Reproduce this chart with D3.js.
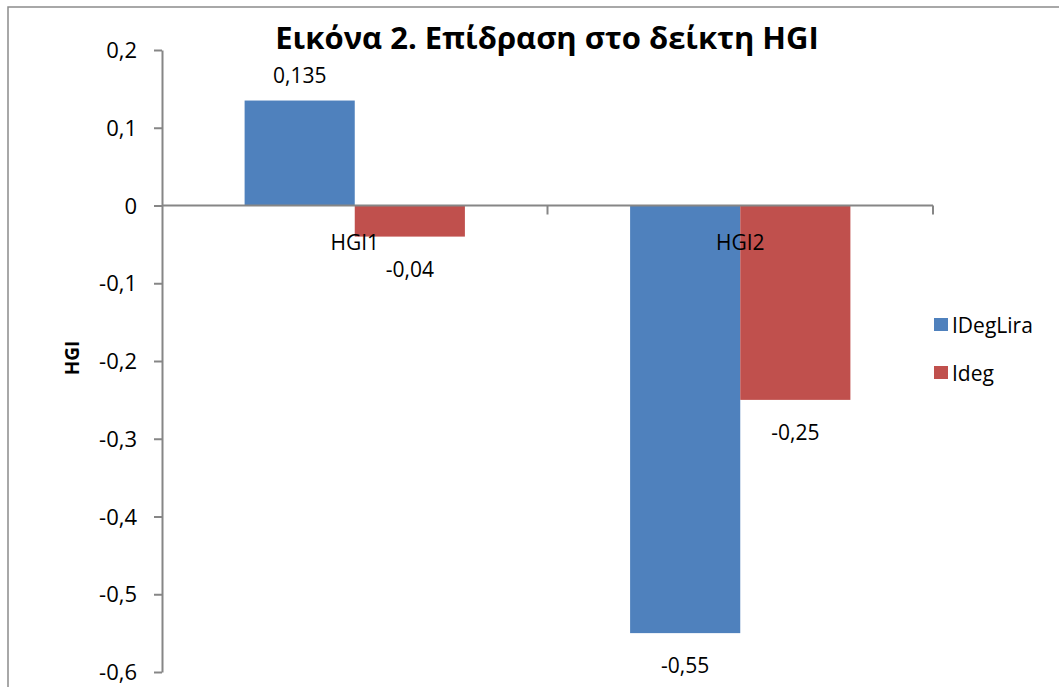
<!DOCTYPE html>
<html>
<head>
<meta charset="utf-8">
<script src="https://cdn.jsdelivr.net/npm/d3@7"></script>
<style>
  body { margin: 0; background: #fff; }
  svg { display: block; }
</style>
</head>
<body>
<div id="vis"></div>
<script>
// Bar chart: effect on HGI index
const categories = ["HGI1", "HGI2"];
const seriesNames = ["IDegLira", "Ideg"];
const seriesColors = ["#4F81BD", "#C0504D"];
const valuesIDegLira = [0.135, -0.55];
const valuesIdeg = [-0.04, -0.25];
const yTicks = [0.2, 0.1, 0, -0.1, -0.2, -0.3, -0.4, -0.5, -0.6];

const width = 1059;
const height = 687;
const font = "'Open Sans', 'Noto Sans', sans-serif";

const data = categories.map((c, i) => ({
  cat: c,
  vals: [
    { key: seriesNames[0], value: valuesIDegLira[i] },
    { key: seriesNames[1], value: valuesIdeg[i] }
  ]
}));

const svg = d3.select("#vis")
  .append("svg")
  .attr("width", width)
  .attr("height", height);

// chart frame
svg.append("rect")
  .attr("x", 8)
  .attr("y", 7)
  .attr("width", width + 20)
  .attr("height", height + 20)
  .attr("fill", "#fff")
  .attr("stroke", "#8c8c8c")
  .attr("stroke-width", 1.5);

// scales
const x0 = d3.scaleBand()
  .domain(categories)
  .range([162, 933]);

const x1 = d3.scaleBand()
  .domain(seriesNames)
  .range([0, x0.bandwidth()])
  .paddingOuter(0.75);

const y = d3.scaleLinear()
  .domain([-0.6, 0.2])
  .range([672, 50]);

const color = d3.scaleOrdinal().domain(seriesNames).range(seriesColors);
const fmt = v => String(v).replace(".", ",");

// bars
const groups = svg.selectAll("g.cat")
  .data(data)
  .enter()
  .append("g")
  .attr("class", "cat")
  .attr("transform", d => `translate(${x0(d.cat)},0)`);

groups.selectAll("rect")
  .data(d => d.vals)
  .enter()
  .append("rect")
  .attr("x", d => x1(d.key))
  .attr("width", x1.bandwidth())
  .attr("y", d => y(Math.max(0, d.value)))
  .attr("height", d => Math.abs(y(d.value) - y(0)))
  .attr("fill", d => color(d.key));

// data labels
groups.selectAll("text.val")
  .data(d => d.vals)
  .enter()
  .append("text")
  .attr("class", "val")
  .attr("x", d => x1(d.key) + x1.bandwidth() / 2)
  .attr("y", d => d.value >= 0 ? y(d.value) - 18 : y(d.value) + 40)
  .attr("text-anchor", "middle")
  .style("font-family", font)
  .style("font-size", "21px")
  .attr("fill", "#000")
  .text(d => fmt(d.value));

// y axis
const yAxis = svg.append("g")
  .attr("transform", "translate(162,0)")
  .call(d3.axisLeft(y).tickValues(yTicks).tickSize(8).tickSizeOuter(0).tickFormat(fmt));
yAxis.selectAll("line, path").attr("stroke", "#868686").attr("stroke-width", 2);
yAxis.selectAll("text")
  .attr("x", -25)
  .attr("dy", "0.35em")
  .style("font-family", font)
  .style("font-size", "22px")
  .attr("fill", "#000");

// x axis at zero
const xAxisG = svg.append("g").attr("transform", `translate(0,${y(0)})`);
xAxisG.append("line")
  .attr("x1", 162).attr("x2", 933)
  .attr("stroke", "#868686").attr("stroke-width", 2);
const boundaries = categories.map(c => x0(c)).concat([x0(categories[categories.length - 1]) + x0.bandwidth()]);
xAxisG.selectAll("line.tick")
  .data(boundaries.slice(1))
  .enter()
  .append("line")
  .attr("class", "tick")
  .attr("x1", d => d).attr("x2", d => d)
  .attr("y1", 0).attr("y2", 9)
  .attr("stroke", "#868686").attr("stroke-width", 2);
xAxisG.selectAll("text")
  .data(categories)
  .enter()
  .append("text")
  .attr("x", d => x0(d) + x0.bandwidth() / 2)
  .attr("y", 44)
  .attr("text-anchor", "middle")
  .style("font-family", font)
  .style("font-size", "21px")
  .attr("fill", "#000")
  .text(d => d);

// y axis title
svg.append("text")
  .attr("transform", "translate(79,358) rotate(-90)")
  .attr("text-anchor", "middle")
  .style("font-family", font)
  .style("font-size", "19px")
  .style("font-weight", "bold")
  .attr("fill", "#000")
  .text("HGI");

// title
svg.append("text")
  .attr("x", 547)
  .attr("y", 49)
  .attr("text-anchor", "middle")
  .style("font-family", font)
  .style("font-size", "31px")
  .style("font-weight", "bold")
  .attr("fill", "#000")
  .text("Εικόνα 2. Επίδραση στο δείκτη HGI");

// legend
const legend = svg.selectAll("g.legend")
  .data(seriesNames)
  .enter()
  .append("g")
  .attr("class", "legend")
  .attr("transform", (d, i) => `translate(934,${318 + i * 48})`);
legend.append("rect")
  .attr("width", 14).attr("height", 13)
  .attr("fill", d => color(d));
legend.append("text")
  .attr("x", 18).attr("y", 15)
  .style("font-family", font)
  .style("font-size", "21px")
  .attr("fill", "#000")
  .text(d => d);
</script>
</body>
</html>
